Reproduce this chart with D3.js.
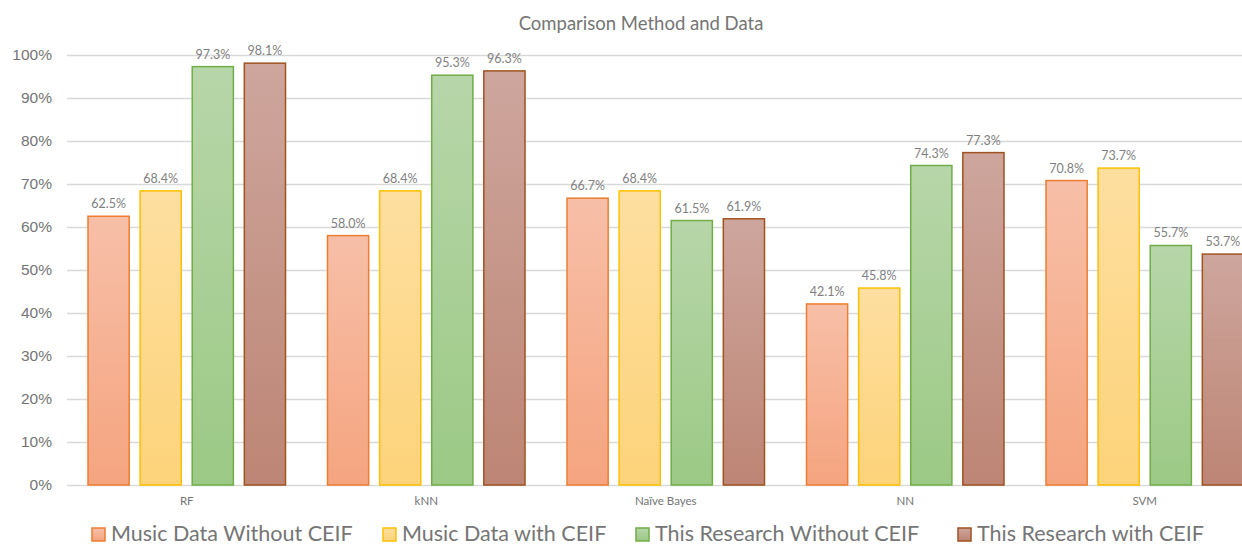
<!DOCTYPE html>
<html>
<head>
<meta charset="utf-8">
<script src="https://cdn.jsdelivr.net/npm/d3@7"></script>
<style>
  body { margin: 0; background: #fff; }
  svg { display: block; font-family: Lato, 'Open Sans', sans-serif; }
</style>
</head>
<body>
<div id="graf"></div>
<script>
const categories = ['RF', 'kNN', 'Naïve Bayes', 'NN', 'SVM']
const seriesNames = [
  'Music Data Without CEIF',
  'Music Data with CEIF',
  'This Research Without CEIF',
  'This Research with CEIF',
]
const musicWithout = [62.5, 58.0, 66.7, 42.1, 70.8]
const musicWith = [68.4, 68.4, 68.4, 45.8, 73.7]
const researchWithout = [97.3, 95.3, 61.5, 74.3, 55.7]
const researchWith = [98.1, 96.3, 61.9, 77.3, 53.7]
const yTicks = [0, 10, 20, 30, 40, 50, 60, 70, 80, 90, 100]

const series = [musicWithout, musicWith, researchWithout, researchWith]
const colores = [
  { top: '#f7bfa8', bottom: '#f5a47f', stroke: '#ed7d31' },
  { top: '#fedfa0', bottom: '#fdd37a', stroke: '#ffc000' },
  { top: '#b7d6a9', bottom: '#9cc985', stroke: '#70ad47' },
  { top: '#cea69d', bottom: '#bd8575', stroke: '#a0521f' },
]

const anchoTotal = 1242
const altoTotal = 546
const margin = { top: 55, left: 67, bottom: 61 }

const svg = d3
  .select('#graf')
  .append('svg')
  .attr('width', anchoTotal)
  .attr('height', altoTotal)

const defs = svg.append('defs')
colores.forEach((c, i) => {
  const grad = defs
    .append('linearGradient')
    .attr('id', `grad${i}`)
    .attr('x1', 0).attr('y1', 0).attr('x2', 0).attr('y2', 1)
  grad.append('stop').attr('offset', '0%').attr('stop-color', c.top)
  grad.append('stop').attr('offset', '100%').attr('stop-color', c.bottom)
})

const x = d3
  .scaleBand()
  .domain(categories)
  .range([margin.left, margin.left + 239.5 * 5])
const x1 = d3
  .scaleBand()
  .domain(d3.range(4))
  .range([21, 239.5 - 21])
  .paddingInner(0.21)
const y = d3.scaleLinear().domain([0, 100]).range([altoTotal - margin.bottom, margin.top])

// title
svg
  .append('text')
  .attr('x', 641)
  .attr('y', 30)
  .attr('text-anchor', 'middle')
  .attr('fill', '#757575')
  .style('font-size', '18.5px')
  .text('Comparison Method and Data')

// grid + y labels
const yAxis = svg
  .append('g')
  .attr('transform', `translate(${margin.left}, 0)`)
  .call(
    d3
      .axisLeft(y)
      .tickValues(yTicks)
      .tickSize(-(anchoTotal - margin.left))
      .tickFormat((d) => d + '%')
  )
yAxis.select('.domain').remove()
yAxis.selectAll('line').attr('stroke', '#d9d9d9').attr('stroke-width', 1.3)
yAxis
  .selectAll('text')
  .attr('x', -15)
  .attr('fill', '#757575')
  .style('font-size', '15.5px')

// bars
const grupos = svg
  .selectAll('.grupo')
  .data(categories)
  .join('g')
  .attr('transform', (d) => `translate(${x(d)}, 0)`)

grupos.each(function (cat, ci) {
  const g = d3.select(this)
  series.forEach((vals, si) => {
    const v = vals[ci]
    g.append('rect')
      .attr('x', x1(si))
      .attr('y', y(v))
      .attr('width', x1.bandwidth())
      .attr('height', y(0) - y(v))
      .attr('fill', `url(#grad${si})`)
      .attr('stroke', colores[si].stroke)
      .attr('stroke-width', 1.5)
    g.append('text')
      .attr('x', x1(si) + x1.bandwidth() / 2)
      .attr('y', y(v) - 8)
      .attr('text-anchor', 'middle')
      .attr('fill', '#7f7f7f')
      .style('font-size', '12.5px')
      .text(v.toFixed(1) + '%')
  })
})

// x labels
svg
  .selectAll('.catLabel')
  .data(categories)
  .join('text')
  .attr('x', (d) => x(d) + x.bandwidth() / 2)
  .attr('y', 505)
  .attr('text-anchor', 'middle')
  .attr('fill', '#757575')
  .style('font-size', '11.5px')
  .text((d) => d)

// legend
const legendX = [92, 383, 636, 958]
const leyenda = svg
  .selectAll('.leg')
  .data(seriesNames)
  .join('g')
  .attr('transform', (d, i) => `translate(${legendX[i]}, 541)`)
leyenda
  .append('rect')
  .attr('x', 0)
  .attr('y', -13)
  .attr('width', 13)
  .attr('height', 13)
  .attr('fill', (d, i) => `url(#grad${i})`)
  .attr('stroke', (d, i) => colores[i].stroke)
  .attr('stroke-width', 1.5)
leyenda
  .append('text')
  .attr('x', 19)
  .attr('y', 0)
  .attr('fill', '#757575')
  .style('font-size', '21.5px')
  .text((d) => d)
</script>
</body>
</html>
